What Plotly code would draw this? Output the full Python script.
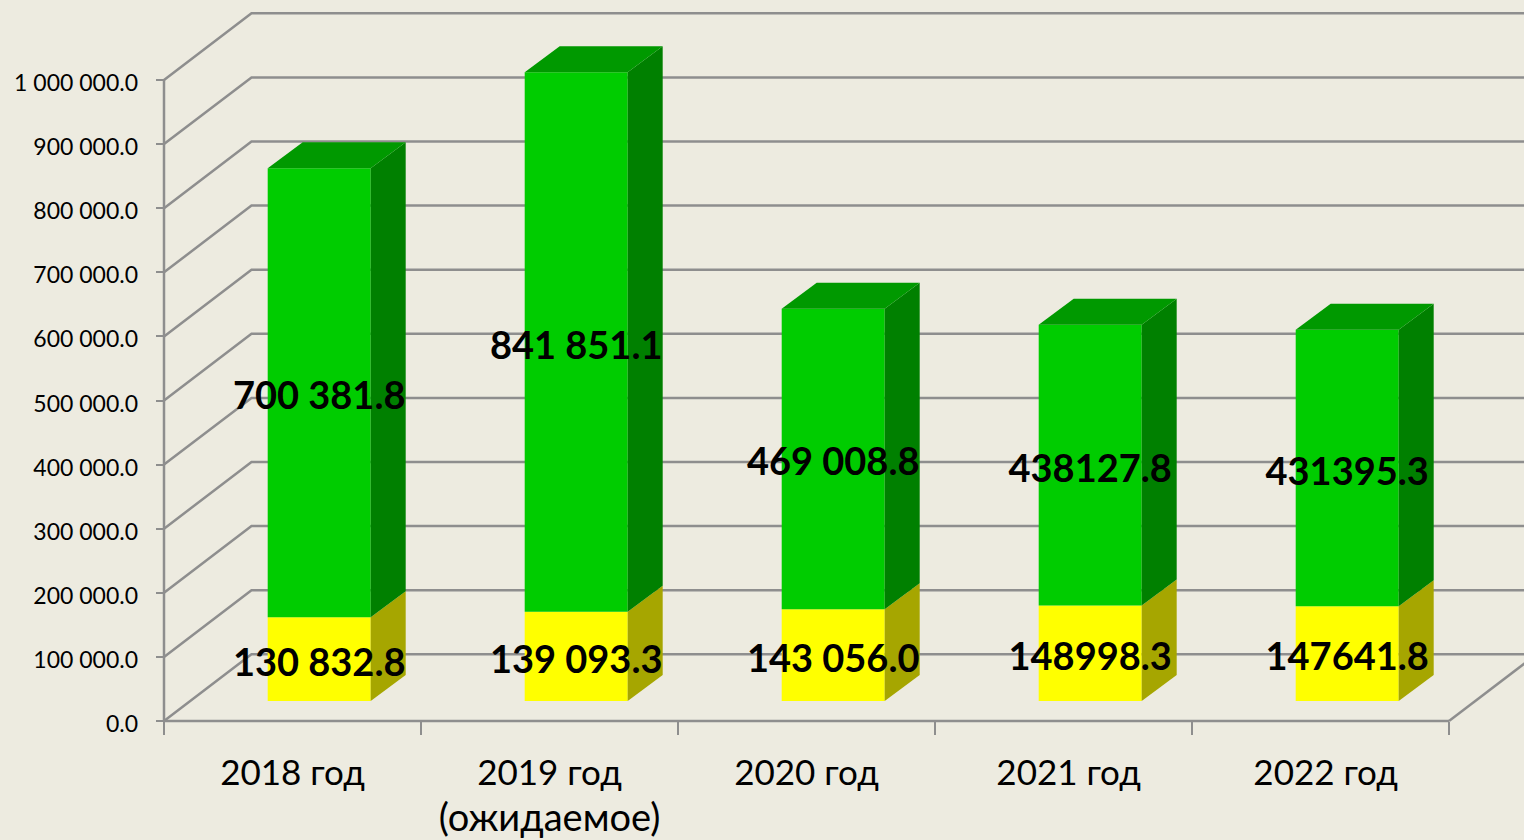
import plotly.graph_objects as go

categories = ["2018 год", "2019 год<br><span style=\"font-size:38px\">(ожидаемое)</span>",
              "2020 год", "2021 год", "2022 год"]
yellow_values = [130832.8, 139093.3, 143056.0, 148998.3, 147641.8]
green_values = [700381.8, 841851.1, 469008.8, 438127.8, 431395.3]
yellow_labels = ["130 832.8", "139 093.3", "143 056.0", "148998.3", "147641.8"]
green_labels = ["700 381.8", "841 851.1", "469 008.8", "438127.8", "431395.3"]
y_ticks = [0, 100000, 200000, 300000, 400000, 500000, 600000, 700000, 800000, 900000, 1000000]
y_tick_labels = ["0.0", "100 000.0", "200 000.0", "300 000.0", "400 000.0", "500 000.0",
                 "600 000.0", "700 000.0", "800 000.0", "900 000.0", "1 000 000.0"]

W, H = 1524, 840
X0, X1, Y0, Y1 = 164, 1449, 721, 80
PX_X = (X1 - X0) / 5
PX_Y = (Y0 - Y1) / 1e6
BG = "#EDEBE0"
GRID = "#8E8E8E"
FONT = "Lato"

x_range = [-X0 / PX_X, (W - X0) / PX_X]
y_range = [-(H - Y0) / PX_Y, Y0 / PX_Y]
label_drop = 3 / PX_Y
y_label_range = [y_range[0] + label_drop, y_range[1] + label_drop]

wall_dx, wall_dy = 87.5 / PX_X, 66.7 / PX_Y
bar_shift, bar_base = 26.7 / PX_X, 20 / PX_Y
bar_w = 103 / PX_X
side_dx, side_dy = 35 / PX_X, 26 / PX_Y
text_drop = 7 / PX_Y

fig = go.Figure()


def line(xs, ys):
    fig.add_trace(go.Scatter(x=xs, y=ys, mode="lines", line=dict(color=GRID, width=2.5),
                             hoverinfo="skip", showlegend=False))


for t in y_ticks:
    line([0, wall_dx, 5 + wall_dx], [t, t + wall_dy, t + wall_dy])
line([5, 5 + wall_dx], [0, wall_dy])
line([0, 0], [0, 1e6])
line([0, 5], [0, 0])

# carries the y tick labels only, so they sit a little under their tick marks
fig.add_trace(go.Scatter(x=[None], y=[None], mode="lines", hoverinfo="skip",
                         showlegend=False, xaxis="x2", yaxis="y3"))


def poly(xs, ys, color):
    fig.add_trace(go.Scatter(x=xs, y=ys, mode="lines", fill="toself", fillcolor=color,
                             line=dict(width=0, color=color),
                             hoverinfo="skip", showlegend=False, xaxis="x2", yaxis="y2"))


centers = [i + 0.5 + bar_shift for i in range(5)]
fig.add_trace(go.Bar(x=centers, y=yellow_values, base=[bar_base] * 5, width=bar_w,
                     marker=dict(color="#FFFF00", line=dict(width=0)), showlegend=False,
                     xaxis="x2", yaxis="y2", name="yellow"))
fig.add_trace(go.Bar(x=centers, y=green_values, base=[bar_base + v for v in yellow_values],
                     width=bar_w, marker=dict(color="#00CC00", line=dict(width=0)),
                     showlegend=False, xaxis="x2", yaxis="y2", name="green"))

for c, a, b in zip(centers, yellow_values, green_values):
    r = c + bar_w / 2
    l = c - bar_w / 2
    y1 = bar_base + a
    y2 = y1 + b
    poly([r, r + side_dx, r + side_dx, r, r],
         [bar_base, bar_base + side_dy, y1 + side_dy, y1, bar_base], "#A6A600")
    poly([r, r + side_dx, r + side_dx, r, r],
         [y1, y1 + side_dy, y2 + side_dy, y2, y1], "#008000")
    poly([l, l + side_dx, r + side_dx, r, l],
         [y2, y2 + side_dy, y2 + side_dy, y2, y2], "#009900")

label_x = centers + centers
label_y = [bar_base + a / 2 - text_drop for a in yellow_values] + \
          [bar_base + a + b / 2 - text_drop for a, b in zip(yellow_values, green_values)]
fig.add_trace(go.Scatter(x=label_x, y=label_y, mode="text", text=yellow_labels + green_labels,
                         textposition="middle center", cliponaxis=False,
                         textfont=dict(family=FONT, size=38, color="#000000", weight="bold"),
                         hoverinfo="skip", showlegend=False, xaxis="x2", yaxis="y2"))

fig.update_layout(
    width=W, height=H, autosize=False,
    margin=dict(l=0, r=0, t=0, b=0),
    paper_bgcolor=BG, plot_bgcolor=BG,
    barmode="overlay", hovermode=False, showlegend=False,
    font=dict(family=FONT, color="#000000"),
    xaxis=dict(domain=[0, 1], range=x_range, tickmode="array",
               tickvals=[0.5, 1.5, 2.5, 3.52, 4.52], ticktext=categories,
               ticks="", tickfont=dict(size=35), showgrid=False, zeroline=False,
               showline=False, ticklabelstandoff=28, tickangle=0, automargin=False,
               anchor="free", position=(H - Y0) / H),
    yaxis=dict(domain=[0, 1], range=y_range, tickmode="array", tickvals=y_ticks,
               ticktext=[""] * len(y_ticks), ticks="outside", ticklen=8, tickwidth=2,
               tickcolor=GRID, showgrid=False, zeroline=False, showline=False,
               automargin=False, anchor="free", position=X0 / W),
    xaxis2=dict(domain=[0, 1], range=x_range, overlaying="x", side="bottom",
                anchor="free", position=(H - Y0) / H,
                tickmode="array", tickvals=[0, 1, 2, 3, 4, 5], ticktext=[""] * 6,
                ticks="outside", ticklen=13, tickwidth=2, tickcolor=GRID,
                showgrid=False, zeroline=False, automargin=False),
    yaxis2=dict(domain=[0, 1], range=y_range, overlaying="y", anchor="x2", visible=False,
                automargin=False),
    yaxis3=dict(domain=[0, 1], range=y_label_range, overlaying="y", tickmode="array",
                tickvals=y_ticks, ticktext=y_tick_labels, ticks="", tickfont=dict(size=23),
                ticklabelstandoff=26, showgrid=False, zeroline=False, showline=False,
                automargin=False, anchor="free", position=X0 / W),
)

fig.write_html("out.html", config=dict(displayModeBar=False),
               post_script="document.body.style.margin='0';document.documentElement.style.overflow='hidden';")
